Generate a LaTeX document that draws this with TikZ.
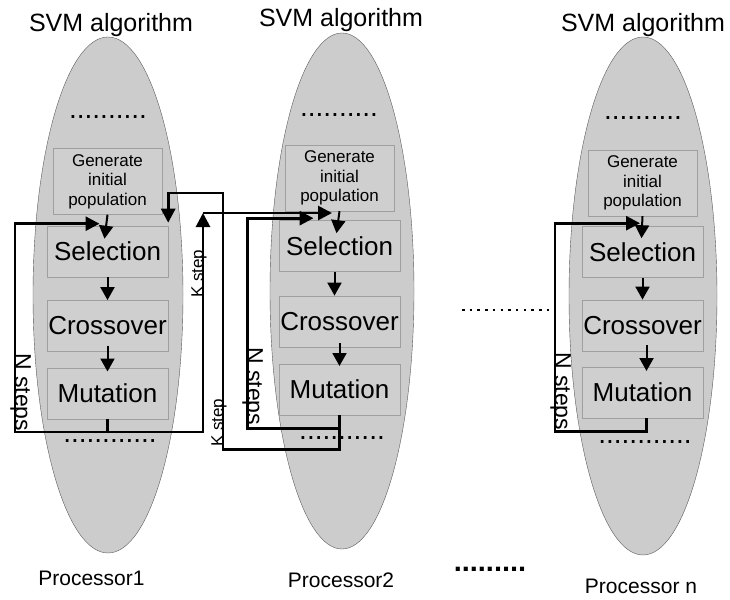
\documentclass[tikz,border=0pt]{standalone}
\usepackage{fontspec}
\setmainfont{Liberation Sans}
\usepackage{tikz}
\usetikzlibrary{positioning,shapes,arrows.meta}

\begin{document}
\begin{tikzpicture}[x=1pt,y=-1pt]
        \tikzstyle{processor}=[ellipse, draw=gray!70!black, fill=gray!40, inner sep=0, minimum width=150, minimum height=516];
        \tikzstyle{stage}=[rectangle, draw=gray!75, fill=gray!38, inner sep=0, minimum width=121, minimum height=51, font=\fontsize{26}{28}\selectfont];
        \tikzstyle{init}=[stage, minimum width=109, minimum height=66, align=center, font=\fontsize{17}{19.5}\selectfont];
        \tikzstyle{flow}=[line width=2pt, -{Triangle[length=13pt, width=14pt]}];
        \tikzstyle{loopback}=[line width=2.8pt, -{Triangle[length=14pt, width=14pt]}];
        \tikzstyle{title}=[anchor=base, inner sep=0, font=\fontsize{25}{27}\selectfont];
        \tikzstyle{cpu}=[anchor=base, inner sep=0, font=\fontsize{21}{23}\selectfont];
        \tikzstyle{dots}=[anchor=base, inner sep=0, font=\fontsize{28}{28}\selectfont];
        \tikzstyle{nsteps}=[anchor=base west, inner sep=0, rotate=-90, font=\fontsize{23}{25}\selectfont];
        \tikzstyle{kstep}=[anchor=base west, inner sep=0, rotate=90, font=\fontsize{17}{19}\selectfont];
        \tikzstyle{dotline}=[line width=2.5pt, dash pattern=on 2.5pt off 5.2pt];

        \useasboundingbox (0,0) rectangle (730,599);

        \node [processor] (P1) at (108,295) {};
        \node [processor, minimum width=144] (P2) at (342,291) {};
        \node [processor, minimum width=148, minimum height=518] (P3) at (643,296) {};

        \node [title] (T1) at (111,32) {SVM algorithm};
        \node [title] (T2) at (341,27) {SVM algorithm};
        \node [title] (T3) at (643,32) {SVM algorithm};

        % processor 1
        \node [dots] (D1a) at (108,118.5) {..........};
        \node [init] (gen1) at (107.5,181.5) {Generate\\initial\\population};
        \node [stage, below=11pt of gen1] (sel1) {Selection};
        \node [stage, below=23pt of sel1] (cro1) {Crossover};
        \node [stage, below=16pt of cro1] (mut1) {Mutation};
        \node [dots] (D1b) at (110,442.5) {............};

        % processor 2
        \node [dots] (D2a) at (339,116.5) {..........};
        \node [init] (gen2) at (339.5,178) {Generate\\initial\\population};
        \node [stage, below=9pt of gen2] (sel2) {Selection};
        \node [stage, below=24pt of sel2] (cro2) {Crossover};
        \node [stage, below=17pt of cro2] (mut2) {Mutation};
        \node [dots] (D2b) at (342,439.5) {...........};

        % processor n
        \node [dots] (D3a) at (643,119.5) {..........};
        \node [init] (gen3) at (642.5,183) {Generate\\initial\\population};
        \node [stage, below=10pt of gen3] (sel3) {Selection};
        \node [stage, below=22pt of sel3] (cro3) {Crossover};
        \node [stage, below=16pt of cro3] (mut3) {Mutation};
        \node [dots] (D3b) at (645,443.5) {............};

        \node [cpu] (C1) at (91.5,585) {Processor1};
        \node [cpu] (C2) at (341,587) {Processor2};
        \node [cpu] (C3) at (641,593) {Processor n};
        \node [dots, font=\fontsize{29}{29}\selectfont\bfseries] (Dn) at (490,571.5) {.........};

        \draw [flow] (gen1.south) -- ([xshift=-3pt, yshift=-13pt] sel1.north);
        \draw [flow] (sel1) -- (cro1);
        \draw [flow] ([yshift=6pt] cro1.south) -- ([yshift=-4pt] mut1.north);

        \draw [flow] (gen2.south) -- ([xshift=-3pt, yshift=-13pt] sel2.north);
        \draw [flow] ([xshift=-5pt] sel2.south) -- ([xshift=-5pt] cro2.north);
        \draw [flow] ([yshift=4pt] cro2.south) -- ([yshift=-2pt] mut2.north);

        \draw [flow] (gen3.south) -- ([xshift=-1pt, yshift=-12pt] sel3.north);
        \draw [flow] (sel3) -- (cro3);
        \draw [flow] ([xshift=4pt, yshift=6pt] cro3.south) -- ([xshift=4pt, yshift=-4pt] mut3.north);

        % N steps loops
        \draw [loopback] (mut1.south) -- ++(0,13) -- ++(-92.5,0) |- ([xshift=-8pt, yshift=2pt] sel1.north);
        \node [nsteps] (N1) at (15,353) {N steps};
        \draw [loopback] (mut2.south) -- ++(0,13) -- ++(-92,0) |- ([xshift=-26pt, yshift=2pt] sel2.north);
        \node [nsteps] (N2) at (247,347) {N steps};
        \draw [loopback] ([xshift=4pt] mut3.south) -- ++(0,13) -- ++(-91.5,0) |- ([xshift=-2.5pt, yshift=3pt] sel3.north);
        \node [nsteps] (N3) at (555,352) {N steps};

        % K step links
        \coordinate (k1) at (203,213);
        \draw [loopback] ([yshift=-13pt] mut1.south) -| (k1);
        \draw [loopback] (k1) -- ++(129,0);
        \node [kstep] (K1) at (203,298) {K step};

        \coordinate (k2) at (223,193);
        \draw [loopback] (mut2.south) -- ++(0,34) -| (k2) -| ([yshift=3pt] sel1.north east);
        \node [kstep] (K2) at (223,447) {K step};

        \coordinate (gap) at (462,310);
        \coordinate (m3) at (555,310);
        \draw [dotline] (gap) -- (m3);
\end{tikzpicture}
\end{document}
